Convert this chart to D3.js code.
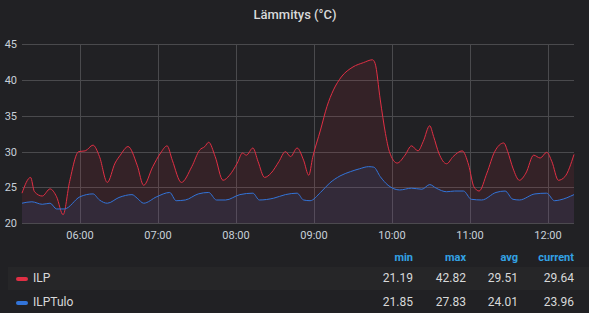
<!DOCTYPE html>
<html lang="fi">
<head>
  <meta charset="UTF-8">
  <title>Lämmitys</title>
  <script src="https://d3js.org/d3.v7.min.js"></script>
  <style>
    body { margin: 0; background: #212124; }
    text { font-family: Roboto, "Noto Sans", sans-serif; }
  </style>
</head>
<body>
<script>
  // series data (time, value)
  const ilpTimes = ["05:15","05:22","05:25","05:31","05:37","05:42","05:47","05:52","05:59","06:04",
    "06:10","06:15","06:21","06:27","06:31","06:37","06:44","06:49","06:56","07:02",
    "07:07","07:11","07:18","07:26","07:32","07:36","07:39","07:44","07:50","07:55",
    "08:01","08:05","08:08","08:13","08:17","08:22","08:27","08:33","08:38","08:42",
    "08:47","08:52","08:56","08:59","09:05","09:10","09:15","09:21","09:30","09:38",
    "09:45","09:47","09:51","09:55","09:58","10:04","10:10","10:15","10:20","10:24",
    "10:29","10:32","10:36","10:42","10:47","10:54","10:59","11:03","11:07","11:13",
    "11:19","11:26","11:29","11:33","11:38","11:43","11:49","11:54","11:59","12:03",
    "12:08","12:13","12:20"];
  const ilpValues = [24.2,26.4,24.4,23.8,24.8,23.7,21.2,25.8,30.0,30.1,
    30.9,29.3,25.7,28.4,29.5,30.7,28.1,25.3,27.9,29.8,
    30.8,28.8,25.7,27.9,30.2,30.7,31.3,29.3,26.0,26.7,
    28.4,29.8,29.5,30.5,28.6,26.4,27.0,28.6,30.0,29.3,
    30.5,28.8,26.7,29.2,33.0,36.3,38.6,40.4,41.8,42.4,
    42.8,42.3,37.2,32.5,30.0,28.4,29.5,30.8,30.1,31.4,
    33.6,32.1,29.8,28.3,29.3,30.1,28.1,25.1,24.5,27.0,
    30.0,31.2,30.0,27.7,26.0,27.0,29.5,29.1,29.9,28.6,
    26.0,26.5,29.6];

  const tuloTimes = ["05:15","05:23","05:31","05:37","05:42","05:48","06:00","06:10","06:15","06:21",
    "06:30","06:40","06:44","06:49","06:59","07:09","07:14","07:21","07:31","07:39",
    "07:45","07:52","08:03","08:13","08:18","08:29","08:38","08:47","08:52","08:57",
    "09:05","09:12","09:20","09:28","09:35","09:42","09:46","09:51","09:57","10:06",
    "10:15","10:23","10:29","10:34","10:42","10:48","10:55","11:01","11:09","11:20",
    "11:27","11:33","11:38","11:50","11:59","12:05","12:09","12:20"];
  const tuloValues = [22.8,23.0,22.65,22.8,22.0,22.0,23.7,24.1,23.25,22.8,
    23.6,24.0,23.5,22.8,23.7,24.3,23.15,23.25,24.1,24.3,
    23.25,23.25,24.0,24.2,23.25,23.5,24.0,24.2,23.25,23.15,
    24.3,25.6,26.6,27.2,27.6,27.9,27.83,26.5,25.3,24.65,
    24.9,24.75,25.4,24.9,24.4,24.5,24.5,23.35,23.25,24.3,
    24.5,23.35,23.25,24.1,24.2,23.15,23.25,24.0];

  const yTicks = [20, 25, 30, 35, 40, 45];
  const xTickTimes = ["06:00","07:00","08:00","09:00","10:00","11:00","12:00"];

  const legendCols = ["min", "max", "avg", "current"];
  const seriesNames = ["ILP", "ILPTulo"];
  const seriesColors = ["#e02f44", "#3274d9"];
  const legendStats = [
    ["21.19", "42.82", "29.51", "29.64"],
    ["21.85", "27.83", "24.01", "23.96"]
  ];

  const W = 589, H = 313;
  const parse = d3.timeParse("%H:%M");

  const svg = d3.select("body").append("svg")
    .attr("width", W)
    .attr("height", H);

  svg.append("rect").attr("width", W).attr("height", H).attr("fill", "#212124");

  const x = d3.scaleTime()
    .domain([new Date(1900, 0, 1, 5, 15, 24), parse("12:20")])
    .range([22, 574]);
  const y = d3.scaleLinear()
    .domain([20, 45])
    .range([223.3, 44]);

  // title
  svg.append("text")
    .attr("x", 295)
    .attr("y", 19)
    .attr("text-anchor", "middle")
    .attr("fill", "#d8d9da")
    .style("font-size", "13px")
    .style("font-weight", "500")
    .text("Lämmitys (°C)");

  // grid
  const grid = svg.append("g");
  grid.selectAll(".hgrid")
    .data(yTicks)
    .enter().append("line")
    .attr("x1", 22).attr("x2", 574)
    .attr("y1", d => Math.round(y(d)) + 0.5)
    .attr("y2", d => Math.round(y(d)) + 0.5)
    .attr("stroke", "#4a4a4d")
    .attr("stroke-width", 1);
  grid.selectAll(".vgrid")
    .data(xTickTimes)
    .enter().append("line")
    .attr("x1", d => Math.round(x(parse(d))) + 0.5)
    .attr("x2", d => Math.round(x(parse(d))) + 0.5)
    .attr("y1", y(45)).attr("y2", y(20))
    .attr("stroke", "#4a4a4d")
    .attr("stroke-width", 1);

  // axis labels
  svg.selectAll(".ylab")
    .data(yTicks)
    .enter().append("text")
    .attr("x", 17)
    .attr("y", d => y(d) + 4)
    .attr("text-anchor", "end")
    .attr("fill", "#c7d0d9")
    .style("font-size", "11px")
    .text(d => d);

  svg.selectAll(".xlab")
    .data(xTickTimes)
    .enter().append("text")
    .attr("x", d => x(parse(d)))
    .attr("y", 239)
    .attr("text-anchor", "middle")
    .attr("fill", "#c7d0d9")
    .style("font-size", "11px")
    .text(d => d);

  // series
  const series = [
    ilpTimes.map((t, i) => ({ t: parse(t), v: ilpValues[i] })),
    tuloTimes.map((t, i) => ({ t: parse(t), v: tuloValues[i] }))
  ];
  series[0][0].t = x.domain()[0];
  series[1][0].t = x.domain()[0];

  const area = d3.area()
    .x(d => x(d.t))
    .y0(y(20))
    .y1(d => y(d.v))
    .curve(d3.curveMonotoneX);
  const line = d3.line()
    .x(d => x(d.t))
    .y(d => y(d.v))
    .curve(d3.curveMonotoneX);

  series.forEach((s, i) => {
    svg.append("path")
      .datum(s)
      .attr("d", area)
      .attr("fill", seriesColors[i])
      .attr("fill-opacity", 0.1);
  });
  series.forEach((s, i) => {
    svg.append("path")
      .datum(s)
      .attr("d", line)
      .attr("fill", "none")
      .attr("stroke", seriesColors[i])
      .attr("stroke-width", 1);
  });

  // legend
  const colRight = [413, 466, 518, 574];
  svg.selectAll(".lhead")
    .data(legendCols)
    .enter().append("text")
    .attr("x", (d, i) => colRight[i])
    .attr("y", 261)
    .attr("text-anchor", "end")
    .attr("fill", "#33a2e5")
    .style("font-size", "11px")
    .style("font-weight", "bold")
    .text(d => d);

  svg.append("rect")
    .attr("x", 8).attr("y", 267)
    .attr("width", W - 8).attr("height", 23)
    .attr("fill", "#262628");

  const rows = svg.selectAll(".lrow")
    .data(seriesNames)
    .enter().append("g")
    .attr("transform", (d, i) => "translate(0," + (282 + i * 24) + ")");

  rows.append("rect")
    .attr("x", 16).attr("y", -5)
    .attr("width", 12).attr("height", 4)
    .attr("rx", 2)
    .attr("fill", (d, i) => seriesColors[i]);

  rows.append("text")
    .attr("x", 33)
    .attr("fill", "#d8d9da")
    .style("font-size", "12px")
    .text(d => d);

  rows.each(function(d, i) {
    d3.select(this).selectAll(".val")
      .data(legendStats[i])
      .enter().append("text")
      .attr("x", (v, j) => colRight[j])
      .attr("text-anchor", "end")
      .attr("fill", "#d8d9da")
      .style("font-size", "12px")
      .text(v => v);
  });
</script>
</body>
</html>
